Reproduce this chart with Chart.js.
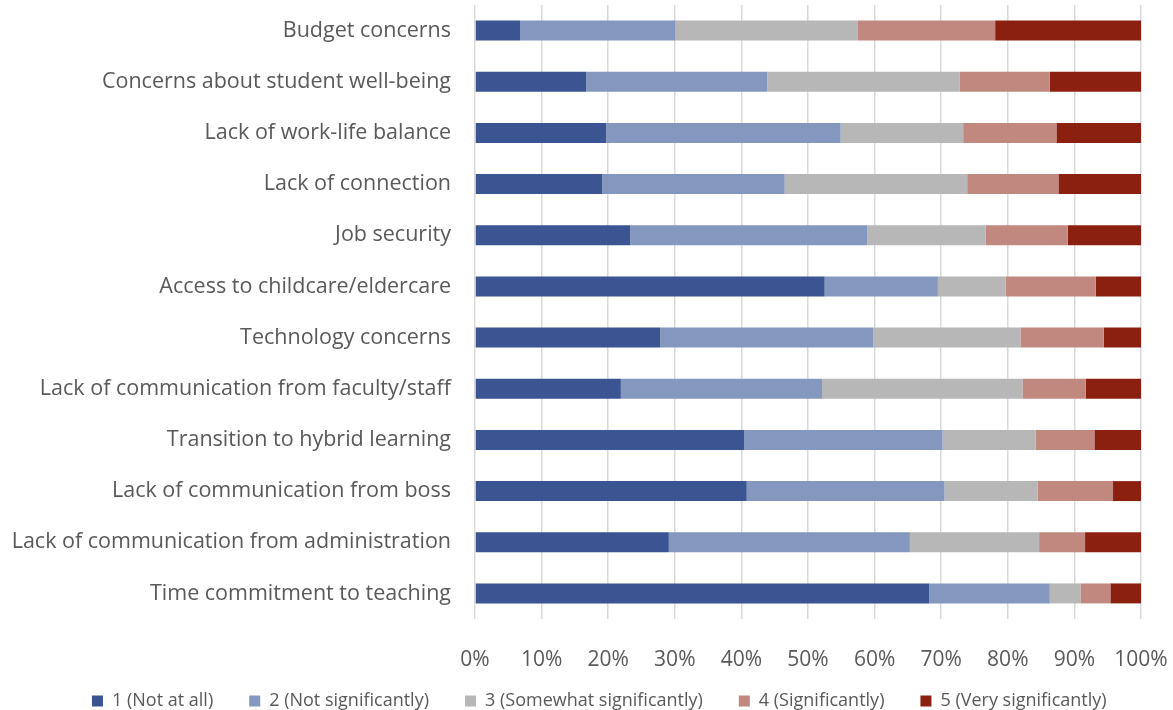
<!DOCTYPE html>
<html>
<head>
<meta charset="utf-8">
<script src="https://cdn.jsdelivr.net/npm/chart.js@4"></script>
<style>
  html, body { margin: 0; padding: 0; background: #fff; }
  #wrap { width: 1173px; height: 710px; }
</style>
</head>
<body>
<div id="wrap"><canvas id="chart"></canvas></div>
<script>
const categories = [
  'Budget concerns',
  'Concerns about student well-being',
  'Lack of work-life balance',
  'Lack of connection',
  'Job security',
  'Access to childcare/eldercare',
  'Technology concerns',
  'Lack of communication from faculty/staff',
  'Transition to hybrid learning',
  'Lack of communication from boss',
  'Lack of communication from administration',
  'Time commitment to teaching'
];

const notAtAll = [6.8, 16.7, 19.7, 19.1, 23.3, 52.5, 27.8, 21.9, 40.4, 40.8, 29.1, 68.2];
const notSignificantly = [23.3, 27.2, 35.2, 27.4, 35.6, 17.0, 32.0, 30.2, 29.8, 29.7, 36.2, 18.1];
const somewhat = [27.4, 28.9, 18.4, 27.4, 17.8, 10.2, 22.1, 30.1, 14.0, 14.0, 19.4, 4.6];
const significantly = [20.6, 13.5, 14.0, 13.7, 12.3, 13.5, 12.5, 9.5, 8.8, 11.3, 6.9, 4.5];
const verySignificantly = [21.9, 13.7, 12.7, 12.4, 11.0, 6.8, 5.6, 8.3, 7.0, 4.2, 8.4, 4.6];

const seriesLabels = [
  '1 (Not at all)',
  '2 (Not significantly)',
  '3 (Somewhat significantly)',
  '4 (Significantly)',
  '5 (Very significantly)'
];
const colors = ['#3a5592', '#8497be', '#b7b7b7', '#c0887e', '#8b2011'];
const series = [notAtAll, notSignificantly, somewhat, significantly, verySignificantly];

const FONT = '"Open Sans", sans-serif';

// wide gaps between legend items, but without the tall empty band above them
const compactLegend = {
  id: 'compactLegend',
  beforeInit(chart) {
    const fit = chart.legend.fit;
    chart.legend.fit = function () {
      fit.call(this);
      if (this.isHorizontal()) this.height = 37;
    };
  },
  afterLayout(chart) {
    const l = chart.legend;
    l.top -= l.options.labels.padding - 19;
    // trailing item padding pulls the centred row left; push it back
    l.left += l.options.labels.padding * 0.8;
    l.right += l.options.labels.padding * 0.8;
  }
};

new Chart(document.getElementById('chart'), {
  type: 'bar',
  data: {
    labels: categories,
    datasets: series.map((vals, i) => ({
      label: seriesLabels[i],
      data: vals,
      backgroundColor: colors[i],
      borderWidth: 0,
      barPercentage: 0.39,
      categoryPercentage: 1
    }))
  },
  options: {
    indexAxis: 'y',
    responsive: true,
    maintainAspectRatio: false,
    animation: false,
    layout: { padding: { top: 5, right: 32, bottom: 0, left: 0 } },
    plugins: {
      legend: {
        position: 'bottom',
        labels: {
          color: '#595959',
          font: { family: FONT, size: 18 },
          boxWidth: 11,
          boxHeight: 11,
          padding: 36
        }
      },
      tooltip: { enabled: false }
    },
    scales: {
      x: {
        stacked: true,
        min: 0,
        max: 100,
        ticks: {
          stepSize: 10,
          color: '#595959',
          font: { family: FONT, size: 21 },
          padding: 28,
          callback: v => v + '%'
        },
        grid: { color: '#d9d9d9', lineWidth: 1.5, drawTicks: false },
        border: { display: false },
        afterFit: s => { s.height = 54; s.paddingLeft = 0; s.paddingRight = 0; }
      },
      y: {
        stacked: true,
        ticks: {
          color: '#595959',
          font: { family: FONT, size: 21.5 },
          padding: 16
        },
        grid: { display: false },
        border: { display: false },
        afterFit: s => { s.width = 475; s.paddingTop = 0; s.paddingBottom = 0; }
      }
    }
  },
  plugins: [compactLegend]
});
</script>
</body>
</html>
